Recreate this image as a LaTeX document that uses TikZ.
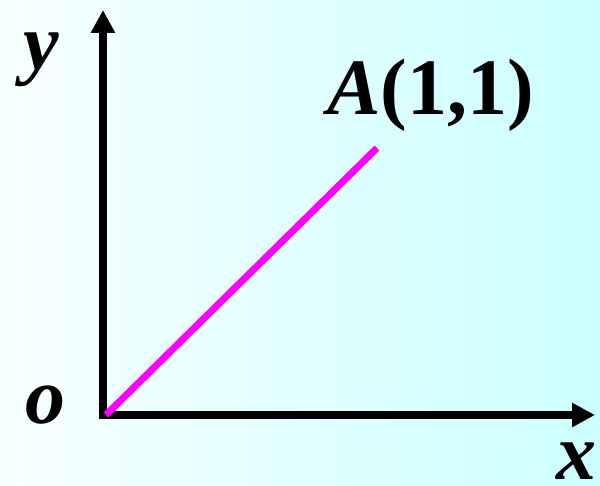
\documentclass[tikz,border=0pt]{standalone}
\usepackage{fontspec}
\setmainfont{Liberation Serif}
\usetikzlibrary{arrows.meta}
\definecolor{bgleft}{RGB}{248,255,255}
\definecolor{bgright}{RGB}{204,255,255}
\definecolor{seg}{RGB}{255,0,255}
\tikzset{
  axis/.style={line width=8pt, line join=miter, {Triangle[length=23pt,width=23pt]}-{Triangle[length=23pt,width=23pt]}},
  lbl/.style={inner sep=0pt, font=\fontsize{80}{82}\selectfont\bfseries},
}
\begin{document}
\begin{tikzpicture}[x=1pt,y=-1pt]
\shade[left color=bgleft,right color=bgright] (0,0) rectangle (600,486);
\useasboundingbox (0,0) rectangle (600,486);
\coordinate (O) at (103,415);
\coordinate (Ytop) at (103,10);
\coordinate (Xend) at (595,415);
\coordinate (Ostart) at (106,415);
\coordinate (Apt) at (377,148);
\draw[axis] (Ytop) -- (O) -- (Xend);
\draw[seg, line width=7pt] (Ostart) -- (Apt);
\node[lbl, anchor=base] (ylab) at (41,70) {\itshape y};
\node[lbl, anchor=base] (olab) at (45,424) {\itshape o};
\node[lbl, anchor=base] (xlab) at (576,479) {\itshape x};
\node[lbl, anchor=base west] (Alab) at (327,115) {\itshape A\upshape(1,1)};
\end{tikzpicture}
\end{document}
